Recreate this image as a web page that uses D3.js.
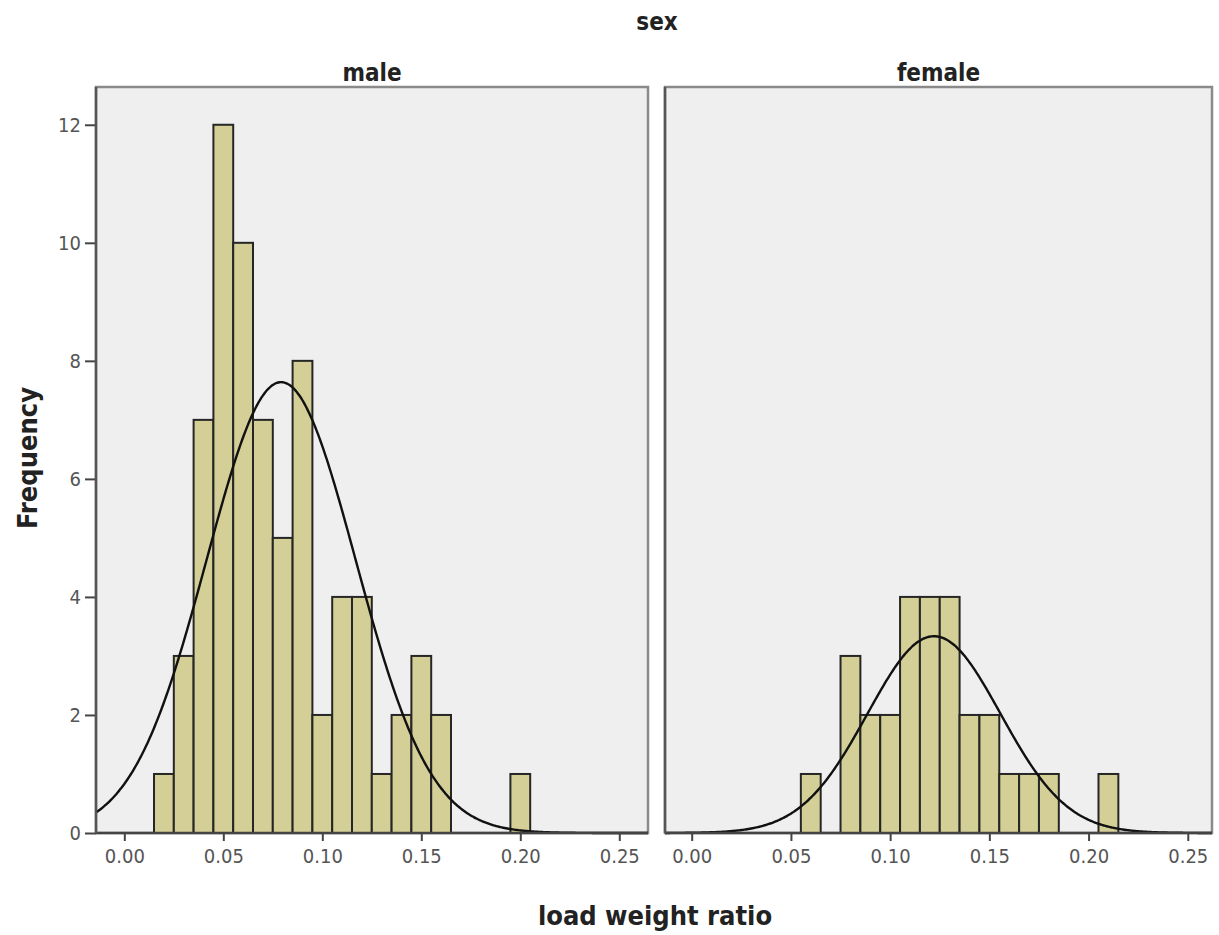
<!DOCTYPE html>
<html>
<head>
<meta charset="utf-8">
<script src="https://cdn.jsdelivr.net/npm/d3@7"></script>
<style>
  html, body { margin: 0; padding: 0; background: #ffffff; }
  svg { display: block; }
  text { font-family: "DejaVu Sans Condensed", "DejaVu Sans", sans-serif; font-stretch: condensed; }
</style>
</head>
<body>
<svg id="chart" width="1219" height="935"></svg>
<script>
// ---- Data ----
const panelNames = ["male", "female"];
const maleBinCenters   = [0.02, 0.03, 0.04, 0.05, 0.06, 0.07, 0.08, 0.09, 0.10, 0.11, 0.12, 0.13, 0.14, 0.15, 0.16, 0.20];
const maleCounts       = [1,    3,    7,    12,   10,   7,    5,    8,    2,    4,    4,    1,    2,    3,    2,    1];
const femaleBinCenters = [0.06, 0.08, 0.09, 0.10, 0.11, 0.12, 0.13, 0.14, 0.15, 0.16, 0.17, 0.18, 0.21];
const femaleCounts     = [1,    3,    2,    2,    4,    4,    4,    2,    2,    1,    1,    1,    1];
const binWidth = 0.01;
// normal curve parameters (mean, std. dev., N) as shown by the fitted curves
const maleNormal   = { mean: 0.0792, sd: 0.0376, n: 72 };
const femaleNormal = { mean: 0.1221, sd: 0.0335, n: 28 };
const xTickValues = [0.00, 0.05, 0.10, 0.15, 0.20, 0.25];
const yTickValues = [0, 2, 4, 6, 8, 10, 12];
const titleText = "sex";
const xLabelText = "load weight ratio";
const yLabelText = "Frequency";

// ---- Layout ----
const svg = d3.select("#chart");
const plotTop = 87, plotBottom = 833;
const panels = [
  { name: panelNames[0], x0: 96,  x1: 648,  dom: [-0.0143, 0.2645], centers: maleBinCenters,   counts: maleCounts,   nrm: maleNormal },
  { name: panelNames[1], x0: 665, x1: 1212, dom: [-0.01346, 0.2622], centers: femaleBinCenters, counts: femaleCounts, nrm: femaleNormal }
];
const y = d3.scaleLinear().domain([0, 12.64]).range([plotBottom, plotTop]);

const barFill = "#d3cf97";
const barStroke = "#262626";
const panelBg = "#efefef";

// Title
svg.append("text").attr("x", 657).attr("y", 30).attr("text-anchor", "middle")
  .attr("font-size", 24).attr("font-weight", "bold").attr("fill", "#222").text(titleText);

panels.forEach((p, i) => {
  const x = d3.scaleLinear().domain(p.dom).range([p.x0, p.x1]);
  const g = svg.append("g");

  // panel background + frame
  g.append("rect").attr("x", p.x0).attr("y", plotTop).attr("width", p.x1 - p.x0).attr("height", plotBottom - plotTop)
    .attr("fill", panelBg).attr("stroke", "#8a8a8a").attr("stroke-width", 2.5);

  // panel title
  g.append("text").attr("x", (p.x0 + p.x1) / 2).attr("y", 81).attr("text-anchor", "middle")
    .attr("font-size", 24).attr("font-weight", "bold").attr("fill", "#222").text(p.name);

  // bars
  const bins = p.centers.map((c, k) => ({ c, n: p.counts[k] }));
  g.selectAll("rect.bar").data(bins).enter().append("rect").attr("class", "bar")
    .attr("x", d => x(d.c - binWidth / 2))
    .attr("width", d => x(d.c + binWidth / 2) - x(d.c - binWidth / 2))
    .attr("y", d => y(d.n))
    .attr("height", d => y(0) - y(d.n))
    .attr("fill", barFill).attr("stroke", barStroke).attr("stroke-width", 2);

  // fitted normal curve
  const { mean, sd, n } = p.nrm;
  const dens = v => n * binWidth / (sd * Math.sqrt(2 * Math.PI)) * Math.exp(-0.5 * ((v - mean) / sd) ** 2);
  const xs = d3.range(p.dom[0], p.dom[1] + 1e-9, (p.dom[1] - p.dom[0]) / 400);
  const line = d3.line().x(v => x(v)).y(v => y(dens(v))).curve(d3.curveBasis);
  g.append("path").datum(xs).attr("d", line).attr("fill", "none")
    .attr("stroke", "#111").attr("stroke-width", 2.4);

  // x axis
  const xAxis = d3.axisBottom(x).tickValues(xTickValues).tickFormat(d3.format(".2f")).tickSize(8).tickPadding(8);
  const xa = g.append("g").attr("transform", `translate(0,${plotBottom})`).call(xAxis);
  xa.select(".domain").remove();
  xa.selectAll(".tick line").attr("stroke", "#444").attr("stroke-width", 2);
  xa.selectAll(".tick text").attr("font-size", 20).attr("fill", "#555")
    .style("font-family", "'DejaVu Sans Condensed', 'DejaVu Sans', sans-serif");
  g.append("line").attr("x1", p.x0).attr("x2", p.x1).attr("y1", plotBottom).attr("y2", plotBottom)
    .attr("stroke", "#444").attr("stroke-width", 2.5);

  // y axis
  if (i === 0) {
    const yAxis = d3.axisLeft(y).tickValues(yTickValues).tickFormat(d3.format("d")).tickSize(11).tickPadding(4);
    const ya = g.append("g").attr("transform", `translate(${p.x0},0)`).call(yAxis);
    ya.select(".domain").remove();
    ya.selectAll(".tick line").attr("stroke", "#444").attr("stroke-width", 2);
    ya.selectAll(".tick text").attr("font-size", 20).attr("fill", "#555")
      .style("font-family", "'DejaVu Sans Condensed', 'DejaVu Sans', sans-serif");
  }
  g.append("line").attr("x1", p.x0).attr("x2", p.x0).attr("y1", plotTop).attr("y2", plotBottom)
    .attr("stroke", "#555").attr("stroke-width", 2.5);
});

// axis titles
svg.append("text").attr("x", 655).attr("y", 925).attr("text-anchor", "middle")
  .attr("font-size", 27).attr("font-weight", "bold").attr("fill", "#222").text(xLabelText);
svg.append("text").attr("transform", "translate(37,458) rotate(-90)").attr("text-anchor", "middle")
  .attr("font-size", 27).attr("font-weight", "bold").attr("fill", "#222").text(yLabelText);
</script>
</body>
</html>
